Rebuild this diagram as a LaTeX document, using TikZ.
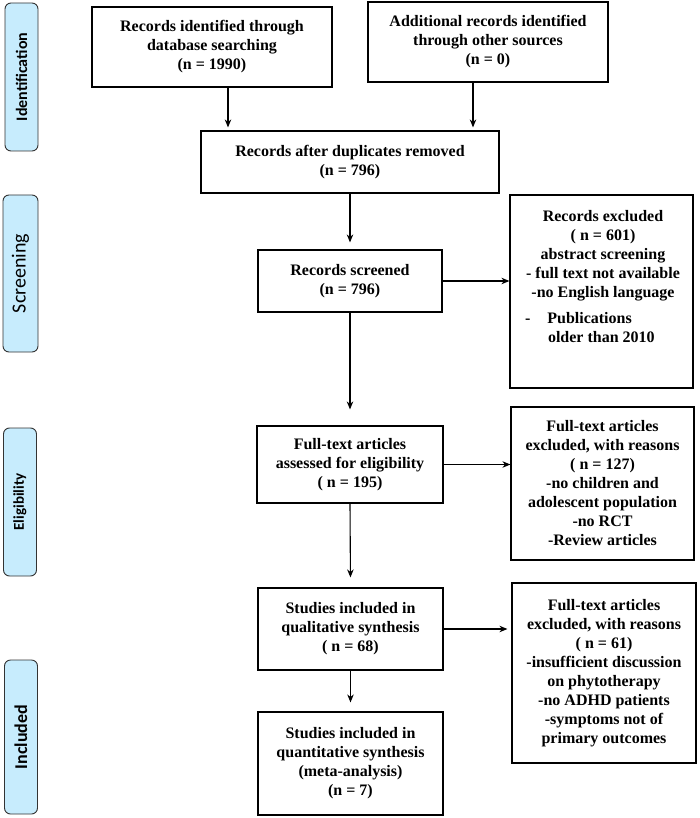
\documentclass[tikz,border=0pt]{standalone}
\usepackage{fontspec}
\setmainfont{Liberation Serif}
\newfontfamily\sidefont{Carlito}
\usetikzlibrary{arrows.meta}
\definecolor{sideblue}{RGB}{199,236,253}
\begin{document}
\begin{tikzpicture}[x=1pt,y=-1pt,
  box/.style={draw=black,line width=1.2pt,align=center,inner sep=0pt,
    font=\bfseries\fontsize{16}{19}\selectfont},
  txt/.style={align=center,inner sep=0pt,font=\bfseries\fontsize{16}{19}\selectfont},
  side/.style={draw=black!80,fill=sideblue,rounded corners=6pt,line width=0.9pt,
    rotate=90,inner sep=0pt,minimum height=33pt},
  arr/.style={-{Stealth[length=8pt,width=6.5pt]},line width=1.1pt}]
\useasboundingbox (0,0) rectangle (699,818);

% side labels
\node[side,minimum width=148pt,font=\sidefont\bfseries\fontsize{16}{18}\selectfont] (sid) at (21.5,77) {Identification};
\node[side,minimum width=157pt,minimum height=35pt,font=\sidefont\fontsize{20}{22}\selectfont] (sscr) at (20.5,273.5) {Screening};
\node[side,minimum width=148pt,font=\sidefont\bfseries\fontsize{15}{18}\selectfont] (selig) at (20,502) {Eligibility};
\node[side,minimum width=154pt,font=\sidefont\bfseries\fontsize{18}{20}\selectfont] (sinc) at (21,737) {Included};

% main column
\node[box,minimum width=240pt,minimum height=80pt] (b1) at (212,47) {Records identified through\\database searching\\(n = 1990)};
\node[box,minimum width=240pt,minimum height=80pt] (b2) at (488,42) {Additional records identified\\through other sources\\(n = 0)};
\node[box,minimum width=298pt,minimum height=62pt] (b3) at (350,162) {Records after duplicates removed\\(n = 796)};
\node[box,minimum width=184pt,minimum height=62pt] (b4) at (350,281) {Records screened\\(n = 796)};
\node[box,minimum width=186pt,minimum height=77pt] (b5) at (350,464.5) {Full-text articles\\assessed for eligibility\\( n = 195)};
\node[box,minimum width=185pt,minimum height=82pt] (b6) at (350.5,629) {Studies included in\\qualitative synthesis\\( n = 68)};
\node[box,minimum width=185pt,minimum height=103pt] (b7) at (350.5,763.5) {Studies included in\\quantitative synthesis\\(meta-analysis)\\(n = 7)};

% exclusion boxes
\node[box,minimum width=183pt,minimum height=193pt] (ex1) at (601.5,291.5) {};
\node[txt] (ex1t) at (603,277) {Records excluded\\( n = 601)\\abstract screening\\- full text not available\\-no English language\\[7pt]\makebox[156pt][l]{-\hspace{17pt}Publications}\\\makebox[156pt][l]{\hspace{23pt}older than 2010}};
\node[box,minimum width=183pt,minimum height=153pt] (ex2) at (602.5,483.5) {Full-text articles\\excluded, with reasons\\( n = 127)\\-no children and\\adolescent population\\-no RCT\\-Review articles};
\node[box,minimum width=184pt,minimum height=180pt] (ex3) at (604,673) {Full-text articles\\excluded, with reasons\\( n = 61)\\-insufficient discussion\\on phytotherapy\\-no ADHD patients\\-symptoms not of\\primary outcomes};

% connectors
\coordinate (a1) at ([xshift=16pt]b1.south);
\coordinate (a2) at ([xshift=-15pt]b2.south);
\draw[arr,shorten >=3pt] (a1) -- (a1 |- b3.north);
\draw[arr,shorten >=3pt] (a2) -- (a2 |- b3.north);
\draw[arr,shorten >=7pt] (b3.south) -- (b4.north);
\draw[arr,shorten >=16pt] (b4.south) -- (b5.north);
\draw[arr,shorten >=10pt] (b5.south) -- (b6.north);
\draw[arr,shorten >=9pt] (b6.south) -- (b7.north);
\draw[arr] (b4.east) -- (b4.east -| ex1.west);
\draw[arr] (b5.east) -- (b5.east -| ex2.west);
\draw[arr,shorten >=4pt] (b6.east) -- (b6.east -| ex3.west);
\end{tikzpicture}
\end{document}
